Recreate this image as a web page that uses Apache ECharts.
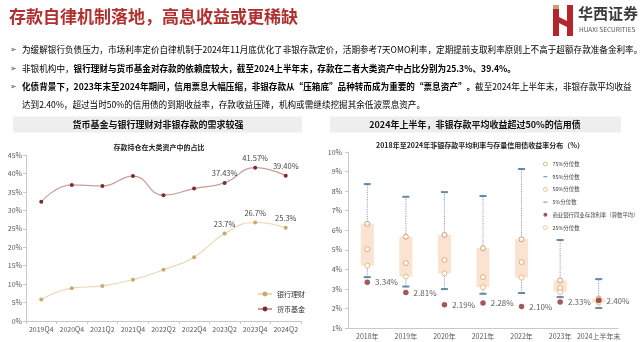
<!DOCTYPE html>
<html>
<head>
<meta charset="utf-8">
<script src="https://cdn.jsdelivr.net/npm/echarts@6/dist/echarts.min.js"></script>
<style>
  html, body { margin: 0; padding: 0; background: #fff; }
  #chart { width: 640px; height: 342px; }
</style>
</head>
<body>
<div id="chart"></div>
<script>
// Left panel: deposit share in money funds and bank wealth products
const quarters = ['2019Q4', '2020Q4', '2021Q2', '2021Q4', '2022Q2', '2022Q4', '2023Q2', '2023Q4', '2024Q2'];
const wealthShare = [5.8, 8.9, 9.5, 11.2, 13.9, 17.3, 23.7, 26.7, 25.3];
const moneyFundShare = [32.3, 36.9, 36.6, 39.3, 34.1, 35.9, 37.43, 41.57, 39.40];
const labeledFrom = 6;

// Right panel: credit bond yield percentiles vs. non-bank deposit rate
const years = ['2018年', '2019年', '2020年', '2021年', '2022年', '2023年', '2024上半年末'];
const p95 = [8.36, 7.71, 7.95, 7.75, 9.13, 5.50, 3.50];
const p75 = [6.33, 5.67, 5.76, 5.08, 5.54, 3.43, 2.50];
const p50 = [5.03, 4.32, 4.48, 3.60, 4.37, 3.04, 2.43];
const p25 = [4.19, 3.63, 3.79, 3.09, 3.58, 2.84, 2.30];
const p5 = [3.60, 3.12, 2.99, 2.75, 2.79, 2.58, 2.02];
const depositRate = [3.34, 2.81, 2.19, 2.28, 2.10, 2.33, 2.40];

const FONT = '"Noto Sans CJK SC", "Noto Sans", sans-serif';
const chart = echarts.init(document.getElementById('chart'), null, { renderer: 'canvas' });

function lineData(values) {
  return values.map((v, i) => i >= labeledFrom ? { value: v, label: { show: true } } : v);
}

const axisGray = '#c8c8c8';
const labelGray = '#595959';

const bullets = [
  { y: 50, text: '{n|为缓解银行负债压力，市场利率定价自律机制于2024年11月底优化了非银存款定价，活期参考7天OMO利率，定期提前支取利率原则上不高于超额存款准备金利率。}', arrow: true },
  { y: 68.5, text: '{n|非银机构中，}{b|银行理财与货币基金对存款的依赖度较大，截至2024上半年末，存款在二者大类资产中占比分别为25.3%、39.4%。}', arrow: true },
  { y: 87, text: '{b|化债背景下，2023年末至2024年期间，信用票息大幅压缩，非银存款从“压箱底”品种转而成为重要的“票息资产”。}{n|截至2024年上半年末，非银存款平均收益}', arrow: true },
  { y: 104.5, text: '{n|达到2.40%，超过当时50%的信用债的到期收益率，存款收益压降，机构或需继续挖掘其余低波票息资产。}', arrow: false }
];

const richStyles = {
  n: { fontSize: 8.6, fontFamily: FONT, color: '#3a3a3a' },
  b: { fontSize: 8.6, fontFamily: FONT, color: '#1a1a1a', fontWeight: 'bold' }
};

const graphics = [
  // page title
  { type: 'text', left: 9, top: 8, style: { text: '存款自律机制落地，高息收益或更稀缺', fill: '#b0302f', font: 'bold 17px ' + FONT } },
  // logo mark
  { type: 'rect', shape: { x: 553, y: 9, width: 6, height: 27 }, style: { fill: '#b3262c' } },
  { type: 'rect', shape: { x: 567, y: 5, width: 6, height: 31 }, style: { fill: '#b3262c' } },
  { type: 'polygon', shape: { points: [[559, 17], [567, 21], [567, 27], [559, 23]] }, style: { fill: '#b3262c' } },
  { type: 'polygon', shape: { points: [[553, 5], [559, 5], [559, 9], [553, 9]] }, style: { fill: '#c9a46a' } },
  { type: 'text', left: 578, top: 6, style: { text: '华西证券', fill: '#3a3a3a', font: 'bold 15px ' + FONT } },
  { type: 'text', left: 579, top: 26, style: { text: 'HUAXI SECURITIES', fill: '#555', font: '6.5px ' + FONT } },
  // panel headers
  { type: 'rect', shape: { x: 13, y: 116.5, width: 289, height: 16 }, style: { fill: '#eeeeee' } },
  { type: 'rect', shape: { x: 330, y: 116.5, width: 291, height: 16 }, style: { fill: '#eeeeee' } },
  { type: 'text', x: 158, y: 124.5, style: { text: '货币基金与银行理财对非银存款的需求较强', fill: '#111', font: 'bold 9px ' + FONT, textAlign: 'center', textVerticalAlign: 'middle' } },
  { type: 'text', x: 475, y: 124.5, style: { text: '2024年上半年，非银存款平均收益超过50%的信用债', fill: '#111', font: 'bold 9px ' + FONT, textAlign: 'center', textVerticalAlign: 'middle' } },
  // chart subtitles
  { type: 'text', x: 159, y: 147, style: { text: '存款持仓在大类资产中的占比', fill: '#222', font: 'bold 7px ' + FONT, textAlign: 'center', textVerticalAlign: 'middle' } },
  { type: 'text', x: 480, y: 145, style: { text: '2018年至2024年非银存款平均利率与存量信用债收益率分布（%）', fill: '#222', font: 'bold 7px ' + FONT, textAlign: 'center', textVerticalAlign: 'middle' } }
];

bullets.forEach(b => {
  if (b.arrow) {
    graphics.push({ type: 'text', x: 10, y: b.y, style: { text: '➢', fill: '#444', font: '8px "DejaVu Sans"', textVerticalAlign: 'middle' } });
  }
  graphics.push({ type: 'text', x: 22, y: b.y, style: { text: b.text, rich: richStyles, textVerticalAlign: 'middle' } });
});

const hollowIcon = color => ({ icon: 'circle', itemStyle: { color: '#fff', borderColor: color, borderWidth: 0.8 } });
const dashIcon = 'path://M0,0h8v2h-8z';

const option = {
  backgroundColor: '#fff',
  animation: false,
  textStyle: { fontFamily: FONT },
  graphic: graphics,
  grid: [
    { left: 26, right: 339, top: 155, bottom: 21 },
    { left: 348, right: 22, top: 152, bottom: 14 }
  ],
  legend: [
    {
      data: ['银行理财', '货币基金'],
      orient: 'vertical', left: 252, top: 285,
      itemWidth: 14, itemHeight: 6, itemGap: 7,
      textStyle: { fontSize: 7, color: '#333', lineHeight: 8 }
    },
    {
      data: [
        Object.assign({ name: '75%分位数' }, hollowIcon('#cf8a4e')),
        { name: '95%分位数', icon: dashIcon },
        Object.assign({ name: '50%分位数' }, hollowIcon('#d9a35e')),
        { name: '5%分位数', icon: dashIcon },
        { name: '商业银行同业存款利率（算数平均）', icon: 'circle' },
        Object.assign({ name: '25%分位数' }, hollowIcon('#e0b46a'))
      ],
      orient: 'vertical', left: 538, top: 155,
      itemWidth: 4, itemHeight: 4, itemGap: 4.7,
      textStyle: { fontSize: 5.4, color: '#444', lineHeight: 8 }
    }
  ],
  xAxis: [
    {
      gridIndex: 0, type: 'category', data: quarters,
      axisLine: { lineStyle: { color: axisGray } },
      axisTick: { show: true, length: 3, lineStyle: { color: axisGray } },
      axisLabel: { fontSize: 7, color: labelGray, margin: 5, interval: 0 }
    },
    {
      gridIndex: 1, type: 'category', data: years,
      axisLine: { lineStyle: { color: axisGray } },
      axisTick: { show: false },
      axisLabel: { fontSize: 7, color: labelGray, margin: 5, interval: 0 }
    }
  ],
  yAxis: [
    {
      gridIndex: 0, type: 'value', min: 0, max: 45, interval: 5,
      axisLine: { show: true, lineStyle: { color: axisGray } },
      axisTick: { show: true, length: 3, lineStyle: { color: axisGray } },
      splitLine: { show: false },
      axisLabel: { fontSize: 7, color: labelGray, margin: 4, formatter: '{value}%' }
    },
    {
      gridIndex: 1, type: 'value', min: 1, max: 10, interval: 1,
      axisLine: { show: true, lineStyle: { color: axisGray } },
      axisTick: { show: true, length: 3, lineStyle: { color: axisGray } },
      splitLine: { show: false },
      axisLabel: { fontSize: 7, color: labelGray, margin: 6, formatter: '{value}%' }
    }
  ],
  series: [
    {
      name: '银行理财', type: 'line', xAxisIndex: 0, yAxisIndex: 0,
      data: lineData(wealthShare), smooth: true,
      symbol: 'circle', symbolSize: 4,
      lineStyle: { color: '#e9d8b2', width: 1.2 },
      itemStyle: { color: '#c9a86e' },
      label: { position: 'top', distance: 4, fontSize: 7.5, color: '#444', formatter: p => p.value.toFixed(1) + '%' }
    },
    {
      name: '货币基金', type: 'line', xAxisIndex: 0, yAxisIndex: 0,
      data: lineData(moneyFundShare), smooth: true,
      symbol: 'circle', symbolSize: 4,
      lineStyle: { color: '#c99d9b', width: 1.2 },
      itemStyle: { color: '#7d2b2b' },
      label: { position: 'top', distance: 4, fontSize: 7.5, color: '#444', formatter: p => p.value.toFixed(2) + '%' }
    },
    {
      name: '分布区间', type: 'custom', xAxisIndex: 1, yAxisIndex: 1,
      data: years.map((_, i) => [i, p5[i], p95[i], p25[i], p75[i]]),
      encode: { x: 0, y: [1, 2, 3, 4] },
      z: 1,
      renderItem: function (params, api) {
        const x = api.value(0);
        const lo = api.coord([x, api.value(1)]);
        const hi = api.coord([x, api.value(2)]);
        const q1 = api.coord([x, api.value(3)]);
        const q3 = api.coord([x, api.value(4)]);
        const w = 13;
        return {
          type: 'group',
          children: [
            { type: 'line', shape: { x1: lo[0], y1: lo[1], x2: hi[0], y2: hi[1] }, style: { stroke: '#8e9cb0', lineWidth: 1, lineDash: [1.2, 1.2] } },
            { type: 'rect', shape: { x: q3[0] - w / 2, y: q3[1], width: w, height: q1[1] - q3[1] }, style: { fill: '#fbe2d1' } }
          ]
        };
      }
    },
    {
      name: '95%分位数', type: 'scatter', xAxisIndex: 1, yAxisIndex: 1, data: p95, z: 3,
      symbol: 'rect', symbolSize: [7, 2], itemStyle: { color: '#3e6e96' }
    },
    {
      name: '5%分位数', type: 'scatter', xAxisIndex: 1, yAxisIndex: 1, data: p5, z: 3,
      symbol: 'rect', symbolSize: [7, 2], itemStyle: { color: '#3e6e96' }
    },
    {
      name: '75%分位数', type: 'scatter', xAxisIndex: 1, yAxisIndex: 1, data: p75, z: 3,
      symbol: 'circle', symbolSize: 5, itemStyle: { color: '#fff', borderColor: '#cf8a4e', borderWidth: 1 }
    },
    {
      name: '50%分位数', type: 'scatter', xAxisIndex: 1, yAxisIndex: 1, data: p50, z: 3,
      symbol: 'circle', symbolSize: 5, itemStyle: { color: '#fff', borderColor: '#d9a35e', borderWidth: 1 }
    },
    {
      name: '25%分位数', type: 'scatter', xAxisIndex: 1, yAxisIndex: 1, data: p25, z: 3,
      symbol: 'circle', symbolSize: 5, itemStyle: { color: '#fff', borderColor: '#e0b46a', borderWidth: 1 }
    },
    {
      name: '商业银行同业存款利率（算数平均）', type: 'scatter', xAxisIndex: 1, yAxisIndex: 1, data: depositRate, z: 4,
      symbol: 'circle', symbolSize: 5.5, itemStyle: { color: '#8a2f2f' },
      label: { show: true, position: 'right', distance: 5, fontSize: 8, color: '#333', formatter: p => p.value.toFixed(2) + '%' }
    }
  ]
};

chart.setOption(option);
</script>
</body>
</html>
